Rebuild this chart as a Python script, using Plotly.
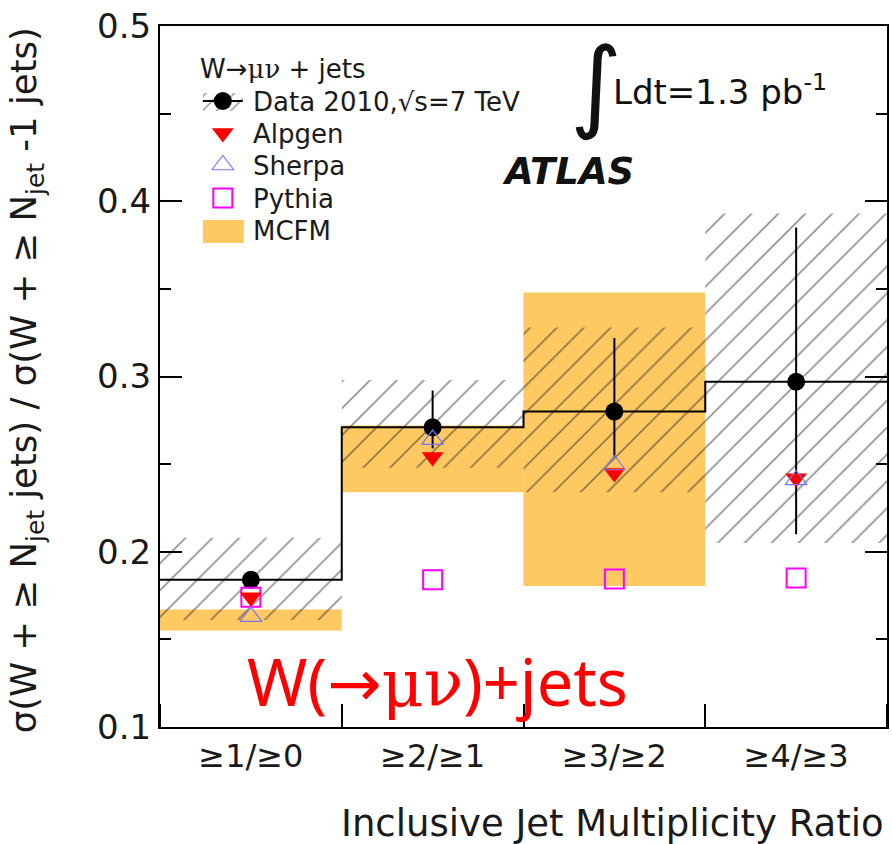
import plotly.graph_objects as go

# Inclusive jet multiplicity ratios, W(->mu nu)+jets, ATLAS 2010
categories = ["≥1/≥0", "≥2/≥1", "≥3/≥2", "≥4/≥3"]
bin_centers = [0.5, 1.5, 2.5, 3.5]

data_ratio = [0.184, 0.271, 0.280, 0.297]
data_err_up = [0.003, 0.021, 0.042, 0.088]
data_err_dn = [0.003, 0.012, 0.026, 0.087]

syst_lo = [0.161, 0.248, 0.234, 0.205]
syst_hi = [0.208, 0.298, 0.328, 0.393]

mcfm_centers = [0.5, 1.5, 2.5]
mcfm_lo = [0.155, 0.234, 0.1805]
mcfm_hi = [0.167, 0.272, 0.348]

alpgen = [0.174, 0.254, 0.245, 0.242]
sherpa = [0.163, 0.264, 0.2495, 0.241]
pythia = [0.174, 0.184, 0.1845, 0.185]

FONT = "DejaVu Sans, Liberation Sans, Arial, sans-serif"
SERIF = "DejaVu Serif, serif"
ORANGE = "#FEC961"
HATCH = "#262626"
TXT = "#1a1a1a"

W, H = 892, 844
ML, MR, MT, MB = 160, 3, 26, 117
PW, PH = W - ML - MR, H - MT - MB


def px(x):
    return (x - ML) / PW


def py(y):
    return (H - MB - y) / PH


fig = go.Figure()

# MCFM prediction band
fig.add_trace(go.Bar(
    x=mcfm_centers, base=mcfm_lo,
    y=[h - l for h, l in zip(mcfm_hi, mcfm_lo)],
    width=1, marker=dict(color=ORANGE, line=dict(width=0)),
    showlegend=False, hoverinfo="skip"))

# total uncertainty band on the data (hatched)
fig.add_trace(go.Bar(
    x=bin_centers, base=syst_lo,
    y=[h - l for h, l in zip(syst_hi, syst_lo)],
    width=1,
    marker=dict(color="rgba(0,0,0,0)", line=dict(width=0),
                pattern=dict(shape="/", fgcolor=HATCH, bgcolor="rgba(0,0,0,0)",
                             size=19, solidity=0.09)),
    showlegend=False, hoverinfo="skip"))

# data histogram outline
fig.add_trace(go.Scatter(
    x=[0] + bin_centers + [4],
    y=[data_ratio[0]] + data_ratio + [data_ratio[-1]],
    mode="lines", line=dict(color="black", width=2, shape="hvh"),
    showlegend=False, hoverinfo="skip"))

# data points with statistical errors
fig.add_trace(go.Scatter(
    x=bin_centers, y=data_ratio, mode="markers",
    marker=dict(symbol="circle", size=18, color="black"),
    error_y=dict(type="data", symmetric=False, array=data_err_up,
                 arrayminus=data_err_dn, color="black", thickness=2, width=0),
    showlegend=False))

fig.add_trace(go.Scatter(
    x=bin_centers, y=pythia, mode="markers",
    marker=dict(symbol="square-open", size=19, color="#ff00ff",
                line=dict(width=2, color="#ff00ff")),
    showlegend=False))
fig.add_trace(go.Scatter(
    x=bin_centers, y=alpgen, mode="markers",
    marker=dict(symbol="triangle-down", size=19, color="#ff0000"),
    showlegend=False))
fig.add_trace(go.Scatter(
    x=bin_centers, y=sherpa, mode="markers",
    marker=dict(symbol="triangle-up-open", size=19, color="#7b74ff",
                line=dict(width=1.2, color="#7b74ff")),
    showlegend=False))

# ---- legend drawn on a pixel-like overlay axis ----
LX = "x2"
LY = "y2"
sym_x = 223
row_y = [101, 133, 165, 198, 230]

# data entry: hatched patch, line and dot
fig.add_trace(go.Scatter(
    x=[203, 243, 243, 203, 203], y=[93, 93, 111, 111, 93],
    xaxis=LX, yaxis=LY, mode="lines", fill="toself",
    line=dict(width=0, color="rgba(0,0,0,0)"),
    fillcolor="rgba(0,0,0,0)",
    fillpattern=dict(shape="/", fgcolor=HATCH, bgcolor="rgba(0,0,0,0)",
                     size=10, solidity=0.15),
    showlegend=False, hoverinfo="skip"))
fig.add_trace(go.Scatter(
    x=[203, 243], y=[row_y[0], row_y[0]], xaxis=LX, yaxis=LY,
    mode="lines", line=dict(color="black", width=2),
    showlegend=False, hoverinfo="skip"))
fig.add_trace(go.Scatter(
    x=[sym_x], y=[row_y[0]], xaxis=LX, yaxis=LY, mode="markers",
    marker=dict(symbol="circle", size=18, color="black"),
    showlegend=False, hoverinfo="skip"))
fig.add_trace(go.Scatter(
    x=[sym_x], y=[row_y[1]], xaxis=LX, yaxis=LY, mode="markers",
    marker=dict(symbol="triangle-down", size=19, color="#ff0000"),
    showlegend=False, hoverinfo="skip"))
fig.add_trace(go.Scatter(
    x=[sym_x], y=[row_y[2]], xaxis=LX, yaxis=LY, mode="markers",
    marker=dict(symbol="triangle-up-open", size=19, color="#7b74ff",
                line=dict(width=1.2, color="#7b74ff")),
    showlegend=False, hoverinfo="skip"))
fig.add_trace(go.Scatter(
    x=[sym_x], y=[row_y[3]], xaxis=LX, yaxis=LY, mode="markers",
    marker=dict(symbol="square-open", size=19, color="#ff00ff",
                line=dict(width=2, color="#ff00ff")),
    showlegend=False, hoverinfo="skip"))
fig.add_trace(go.Scatter(
    x=[203, 244, 244, 203, 203], y=[220, 220, 243, 243, 220],
    xaxis=LX, yaxis=LY, mode="lines", fill="toself",
    line=dict(width=0, color=ORANGE), fillcolor=ORANGE,
    showlegend=False, hoverinfo="skip"))


def label(x, y, text, size, color=TXT, family=FONT, xanchor="left", angle=0):
    return dict(x=px(x), y=py(y), xref="paper", yref="paper", text=text,
                showarrow=False, xanchor=xanchor, yanchor="middle",
                textangle=angle, font=dict(family=family, size=size, color=color))


legend_labels = ["Data 2010,√s=7 TeV", "Alpgen", "Sherpa", "Pythia", "MCFM"]
annotations = [label(198, 69,
                     f"W→<span style='font-family:{SERIF}'>μν</span> + jets", 26)]
for lab, yy in zip(legend_labels, row_y):
    annotations.append(label(251, yy + 1, lab, 26))

# luminosity label
annotations.append(label(597, 84, "∫", 100, color="#111", xanchor="center"))
annotations.append(label(612, 90, "Ldt=1.3 pb<sup>-1</sup>", 34, color="#111"))
annotations.append(label(569, 172, "<b><i>ATLAS</i></b>", 37, color="#111",
                         xanchor="center"))
annotations.append(label(
    438, 681,
    "W(<span style='font-family:DejaVu Sans'>→</span>"
    f"<span style='font-family:{SERIF}'>μν</span>)+jets",
    65, color="#ff0000", family="Noto Sans, sans-serif", xanchor="center"))

# axis titles
annotations.append(label(
    26, 380,
    "σ(W + ≥ N<sub>jet</sub> jets) / σ(W + ≥ N<sub>jet</sub> -1 jets)",
    35.5, xanchor="center", angle=-90))
annotations.append(label(888, 823, "Inclusive Jet Multiplicity Ratio", 37,
                         xanchor="right"))

fig.update_layout(
    width=W, height=H,
    margin=dict(l=ML, r=MR, t=MT, b=MB),
    paper_bgcolor="white", plot_bgcolor="white",
    barmode="overlay", showlegend=False,
    annotations=annotations,
    xaxis=dict(range=[0, 4], tickvals=bin_centers, ticktext=categories,
               ticks="", showgrid=False, zeroline=False,
               showline=True, linecolor="black", linewidth=2, mirror=True,
               tickfont=dict(family=FONT, size=32, color=TXT),
               minor=dict(ticks="inside", ticklen=23, tick0=0, dtick=1,
                          tickcolor="black", tickwidth=2, showgrid=False)),
    yaxis=dict(range=[0.1, 0.5], dtick=0.1, tick0=0.1,
               ticks="inside", ticklen=22, tickwidth=2, tickcolor="black",
               tickformat=".1f",
               showgrid=False, zeroline=False,
               showline=True, linecolor="black", linewidth=2, mirror="ticks",
               tickfont=dict(family=FONT, size=34, color=TXT),
               minor=dict(ticks="inside", ticklen=11, dtick=0.05,
                          tickcolor="black", tickwidth=2, showgrid=False)),
    xaxis2=dict(overlaying="x", range=[ML, W - MR], visible=False),
    yaxis2=dict(overlaying="y", range=[H - MB, MT], visible=False),
)

fig.write_html("out.html")
